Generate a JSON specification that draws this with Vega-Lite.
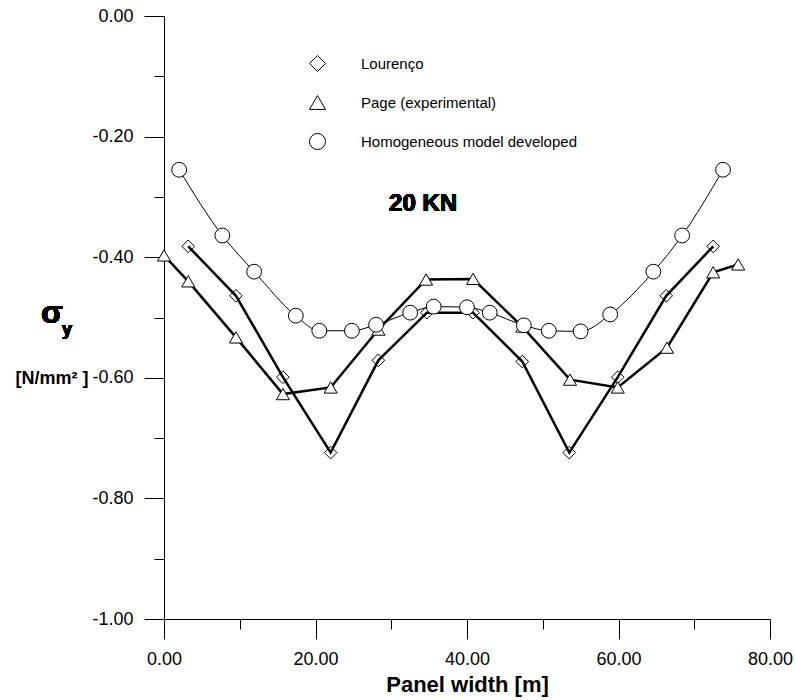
{
  "$schema": "https://vega.github.io/schema/vega-lite/v6.json",
  "width": 606,
  "height": 603,
  "autosize": "none",
  "padding": {"left": 164, "top": 16, "right": 25, "bottom": 81},
  "background": "white",
  "config": {
    "view": {"stroke": null},
    "font": "Liberation Sans",
    "axis": {"labelFont": "Liberation Sans", "titleFont": "Liberation Sans", "domainColor": "black", "tickColor": "black", "labelColor": "black", "titleColor": "black", "grid": false}
  },
  "data": {"values": [
    {"series": "Lourenço", "x": 3.2, "y": -0.382},
    {"series": "Lourenço", "x": 9.5, "y": -0.464},
    {"series": "Lourenço", "x": 15.7, "y": -0.599},
    {"series": "Lourenço", "x": 22.0, "y": -0.724},
    {"series": "Lourenço", "x": 28.3, "y": -0.571},
    {"series": "Lourenço", "x": 34.7, "y": -0.492},
    {"series": "Lourenço", "x": 40.8, "y": -0.492},
    {"series": "Lourenço", "x": 47.3, "y": -0.573},
    {"series": "Lourenço", "x": 53.5, "y": -0.724},
    {"series": "Lourenço", "x": 59.9, "y": -0.599},
    {"series": "Lourenço", "x": 66.3, "y": -0.464},
    {"series": "Lourenço", "x": 72.5, "y": -0.382},
    {"series": "Page (experimental)", "x": 0.0, "y": -0.397},
    {"series": "Page (experimental)", "x": 3.2, "y": -0.440},
    {"series": "Page (experimental)", "x": 9.5, "y": -0.533},
    {"series": "Page (experimental)", "x": 15.7, "y": -0.627},
    {"series": "Page (experimental)", "x": 22.0, "y": -0.616},
    {"series": "Page (experimental)", "x": 28.3, "y": -0.520},
    {"series": "Page (experimental)", "x": 34.6, "y": -0.437},
    {"series": "Page (experimental)", "x": 40.8, "y": -0.436},
    {"series": "Page (experimental)", "x": 47.3, "y": -0.515},
    {"series": "Page (experimental)", "x": 53.6, "y": -0.603},
    {"series": "Page (experimental)", "x": 59.9, "y": -0.616},
    {"series": "Page (experimental)", "x": 66.4, "y": -0.550},
    {"series": "Page (experimental)", "x": 72.5, "y": -0.425},
    {"series": "Page (experimental)", "x": 75.8, "y": -0.412},
    {"series": "Homogeneous model developed", "x": 2.0, "y": -0.255},
    {"series": "Homogeneous model developed", "x": 7.7, "y": -0.364},
    {"series": "Homogeneous model developed", "x": 11.9, "y": -0.424},
    {"series": "Homogeneous model developed", "x": 17.4, "y": -0.497},
    {"series": "Homogeneous model developed", "x": 20.5, "y": -0.522},
    {"series": "Homogeneous model developed", "x": 24.8, "y": -0.522},
    {"series": "Homogeneous model developed", "x": 28.0, "y": -0.512},
    {"series": "Homogeneous model developed", "x": 32.5, "y": -0.492},
    {"series": "Homogeneous model developed", "x": 35.6, "y": -0.482},
    {"series": "Homogeneous model developed", "x": 40.0, "y": -0.483},
    {"series": "Homogeneous model developed", "x": 43.0, "y": -0.492},
    {"series": "Homogeneous model developed", "x": 47.5, "y": -0.513},
    {"series": "Homogeneous model developed", "x": 50.8, "y": -0.522},
    {"series": "Homogeneous model developed", "x": 55.0, "y": -0.523},
    {"series": "Homogeneous model developed", "x": 58.9, "y": -0.495},
    {"series": "Homogeneous model developed", "x": 64.6, "y": -0.424},
    {"series": "Homogeneous model developed", "x": 68.4, "y": -0.364},
    {"series": "Homogeneous model developed", "x": 73.8, "y": -0.255}
  ]},
  "layer": [
    {
      "transform": [{"filter": "datum.series !== 'Homogeneous model developed'"}],
      "mark": {"type": "line", "color": "black", "strokeWidth": 2.5},
      "encoding": {
        "x": {"field": "x", "type": "quantitative",
          "scale": {"domain": [0, 80], "nice": false, "zero": false},
          "axis": {
            "values": [0, 10, 20, 30, 40, 50, 60, 70, 80],
            "labelExpr": "datum.value % 20 === 0 ? replace(format(datum.value, '.2f'), '\u2212', '-') : ''",
            "tickSize": {"condition": {"test": "datum.value % 20 !== 0", "value": 10}, "value": 20},
            "labelFontSize": 18, "labelPadding": 11, "labelFlush": false,
            "title": "Panel width [m]", "titleFontSize": 22, "titleFontWeight": "bold", "titlePadding": 6
          }},
        "y": {"field": "y", "type": "quantitative",
          "scale": {"domain": [-1, 0], "nice": false, "zero": false},
          "axis": {
            "values": [-1, -0.9, -0.8, -0.7, -0.6, -0.5, -0.4, -0.3, -0.2, -0.1, 0],
            "labelExpr": "round(datum.value * 10) % 2 === 0 ? replace(format(datum.value, '.2f'), '\u2212', '-') : ''",
            "tickSize": {"condition": {"test": "round(datum.value * 10) % 2 !== 0", "value": 10}, "value": 20},
            "labelFontSize": 18, "labelPadding": 11, "labelFlush": false,
            "title": "[N/mm² ]", "titleAngle": 0, "titleFontSize": 18, "titleFontWeight": "bold",
            "titleAlign": "right", "titleBaseline": "middle", "titleX": -76, "titleY": 362
          }},
        "detail": {"field": "series"}
      }
    },
    {
      "transform": [{"filter": "datum.series === 'Homogeneous model developed'"}],
      "mark": {"type": "line", "color": "black", "strokeWidth": 1, "interpolate": "monotone"},
      "encoding": {
        "x": {"field": "x", "type": "quantitative"},
        "y": {"field": "y", "type": "quantitative"}
      }
    },
    {
      "transform": [{"filter": "datum.series === 'Lourenço'"}],
      "mark": {"type": "point", "filled": false, "stroke": "black", "strokeWidth": 1, "opacity": 1, "size": 160},
      "encoding": {
        "x": {"field": "x", "type": "quantitative"},
        "y": {"field": "y", "type": "quantitative"},
        "shape": {"field": "series", "type": "nominal",
          "scale": {"domain": ["Lourenço", "Page (experimental)", "Homogeneous model developed"], "range": ["diamond", "triangle-up", "circle"]},
          "legend": {
            "title": null, "orient": "none", "legendX": 145, "legendY": 39,
            "padding": 0, "rowPadding": 19, "labelOffset": 35, "labelLimit": 0,
            "labelFont": "Liberation Sans", "labelFontSize": 15, "labelColor": "black",
            "symbolSize": 256, "symbolFillColor": "white", "symbolStrokeColor": "black", "symbolStrokeWidth": 1, "symbolOpacity": 1
          }}
      }
    },
    {
      "transform": [{"filter": "datum.series === 'Page (experimental)'"}],
      "mark": {"type": "point", "filled": true, "fill": "white", "stroke": "black", "strokeWidth": 1, "opacity": 1, "size": 170},
      "encoding": {
        "x": {"field": "x", "type": "quantitative"},
        "y": {"field": "y", "type": "quantitative"},
        "shape": {"field": "series", "type": "nominal", "legend": null}
      }
    },
    {
      "transform": [{"filter": "datum.series === 'Homogeneous model developed'"}],
      "mark": {"type": "point", "filled": true, "fill": "white", "stroke": "black", "strokeWidth": 1, "opacity": 1, "size": 220},
      "encoding": {
        "x": {"field": "x", "type": "quantitative"},
        "y": {"field": "y", "type": "quantitative"},
        "shape": {"field": "series", "type": "nominal", "legend": null}
      }
    },
    {
      "mark": {"type": "text", "text": "20 KN", "font": "Liberation Sans", "fontSize": 24, "fontWeight": "bold", "align": "center", "baseline": "middle", "color": "black"},
      "encoding": {"x": {"datum": 34.2}, "y": {"datum": -0.312}}
    },
    {
      "mark": {"type": "text", "text": "σ", "font": "Liberation Sans", "fontSize": 32, "fontWeight": "bold", "align": "center", "baseline": "middle", "color": "black", "clip": false},
      "encoding": {"x": {"datum": -14.8}, "y": {"datum": -0.493}}
    },
    {
      "mark": {"type": "text", "text": "y", "font": "Liberation Sans", "fontSize": 18, "fontWeight": "bold", "align": "center", "baseline": "middle", "color": "black", "clip": false},
      "encoding": {"x": {"datum": -12.8}, "y": {"datum": -0.521}}
    }
  ]
}
